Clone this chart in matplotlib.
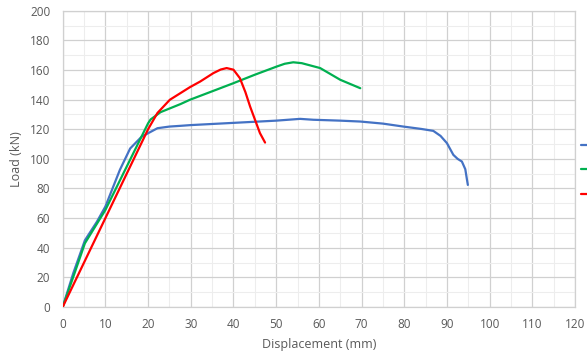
import matplotlib
matplotlib.use("Agg")
import matplotlib.pyplot as plt
from matplotlib.ticker import MultipleLocator

# load-displacement curves
blue_x = [0, 2.5, 5.2, 8, 10, 13.4, 15.8, 18.5, 20, 22.2, 25, 27.6, 30, 40, 50, 55.6,
          58.7, 65, 69.7, 75, 79.8, 84, 86.8, 88.5, 90, 91.5, 92.5, 93.5, 94.3, 94.7, 94.9]
blue_y = [0, 23, 45, 57.5, 67.8, 92.6, 107, 115, 117.3, 120.7, 121.8, 122.3, 122.8, 124.3, 125.8, 127,
          126.4, 125.8, 125.2, 123.8, 121.8, 120.2, 118.9, 115.5, 110.6, 102.7, 100, 98.2, 93, 85.8, 82.4]

green_x = [0, 2.5, 5.2, 10, 15, 20, 20.6, 22.9, 27.6, 29.8, 35, 40, 45, 50.2, 52, 54, 56,
           60.3, 65, 69.7]
green_y = [0, 20.5, 43, 65.5, 94.8, 124, 126.6, 131.5, 137, 139.9, 145.6, 151.1, 156.8, 162.4, 164.2, 165.2, 164.6,
           161.3, 153.4, 147.7]

red_x = [0, 10, 20, 22.2, 25.1, 29.8, 32.2, 35.3, 37, 38.4, 40, 41.5, 42.8, 43.9, 46.2, 47.4]
red_y = [0, 60, 120, 131, 139.9, 148.4, 152.2, 157.9, 160.3, 161.3, 160.2, 154.5, 145, 135.3, 117.4, 111]

series = [(blue_x, blue_y, "#4472C4"),
          (green_x, green_y, "#00B050"),
          (red_x, red_y, "#FF0000")]

plt.rcParams.update({
    "font.family": ["Open Sans", "DejaVu Sans"],
    "font.size": 8.5,
})

fig = plt.figure(figsize=(5.87, 3.58), dpi=100)
ax = fig.add_axes([0.1068, 0.1425, 0.8728, 0.8275])

handles = []
for xs, ys, c in series:
    ln, = ax.plot(xs, ys, color=c, lw=1.6, solid_capstyle="round",
                  solid_joinstyle="round", zorder=3)
    handles.append(ln)

ax.set_xlim(0, 120)
ax.set_ylim(0, 200)
ax.xaxis.set_major_locator(MultipleLocator(10))
ax.yaxis.set_major_locator(MultipleLocator(20))
ax.xaxis.set_minor_locator(MultipleLocator(5))
ax.yaxis.set_minor_locator(MultipleLocator(10))
ax.grid(which="major", color="#d0d0d0", lw=0.9, zorder=0)
ax.grid(which="minor", color="#ededed", lw=0.8, zorder=0)
ax.set_axisbelow(True)
for s in ax.spines.values():
    s.set_color("#d0d0d0")
    s.set_linewidth(0.9)
ax.tick_params(which="both", length=0, colors="#595959", labelsize=8.5)
ax.tick_params(axis="x", pad=8)
ax.tick_params(axis="y", pad=9)

ax.set_xlabel("Displacement (mm)", color="#595959", fontsize=9, labelpad=5)
ax.set_ylabel("Load (kN)", color="#595959", fontsize=9, labelpad=5)

# legend sits mostly off the right edge, as in the source image
fig.legend(handles, ["", "", ""], loc="center left", bbox_to_anchor=(0.989, 0.5243),
           frameon=False, borderpad=0, borderaxespad=0, handlelength=2.0,
           handletextpad=0.5, labelspacing=0.9, fontsize=9)

fig.savefig("out.png", dpi=100)
